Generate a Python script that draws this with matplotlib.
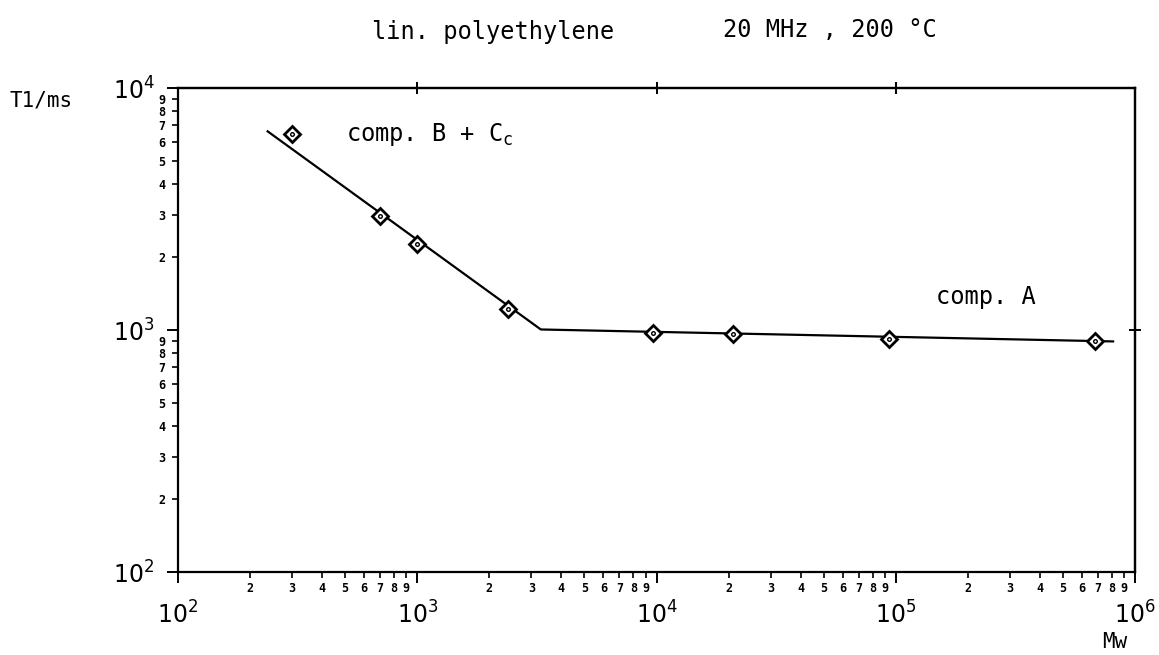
import numpy as np
import matplotlib
matplotlib.use("Agg")
import matplotlib.pyplot as plt
from matplotlib.ticker import LogLocator, FuncFormatter, FixedLocator, NullFormatter

# ---- data ----
mw_points = [300, 700, 1000, 2400, 9700, 20800, 93500, 681000]
t1_points = [6430, 2960, 2260, 1220, 972, 963, 919, 901]
fit_mw = [237, 3285, 810000]
fit_t1 = [6620, 1005, 897]
x_decades = [1e2, 1e3, 1e4, 1e5, 1e6]
y_decades = [1e2, 1e3, 1e4]
top_ticks = [1e3, 1e4, 1e5]
right_ticks = [1e3]
title_left = "lin. polyethylene"
title_right = "20 MHz , 200 °C"
label_bc = r"comp. B + C$_{\mathdefault{c}}$"
label_a = "comp. A"
ylabel = "T1/ms"
xlabel = "Mw"

W, H = 1159, 655
plt.rcParams["mathtext.fontset"] = "dejavusans"
fig = plt.figure(figsize=(W / 100, H / 100), dpi=100)
fig.patch.set_facecolor("white")

def fx(px):
    return px / W

def fy(py):
    return 1 - py / H

ax = fig.add_axes([fx(178), fy(572), (1135 - 178) / W, (572 - 88) / H])
ax.set_xscale("log")
ax.set_yscale("log")
ax.set_xlim(x_decades[0], x_decades[-1])
ax.set_ylim(y_decades[0], y_decades[-1])

for s in ax.spines.values():
    s.set_linewidth(1.6)

ax.plot(fit_mw, fit_t1, color="black", lw=1.6, zorder=2)
ax.plot(mw_points, t1_points, linestyle="none", marker="D", ms=8,
        mfc="white", mec="black", mew=2.0, zorder=3)
ax.plot(mw_points, t1_points, linestyle="none", marker="o", ms=2.6,
        mfc="white", mec="black", mew=1.0, zorder=4)

def major_fmt(v, pos):
    e = int(round(np.log10(v)))
    return r"$\mathdefault{10^{%d}}$" % e

def minor_fmt(v, pos):
    e = np.floor(np.log10(v) + 1e-9)
    d = int(round(v / 10 ** e))
    return str(d)

for axis in (ax.xaxis, ax.yaxis):
    axis.set_major_locator(FixedLocator(x_decades if axis is ax.xaxis else y_decades))
    axis.set_major_formatter(FuncFormatter(major_fmt))
    axis.set_minor_locator(LogLocator(base=10, subs=np.arange(2, 10), numticks=100))
    axis.set_minor_formatter(FuncFormatter(minor_fmt))

ax.tick_params(axis="both", which="major", direction="out", length=8, width=1.4,
               labelsize=17, colors="black")
ax.tick_params(axis="x", which="major", pad=13)
ax.tick_params(axis="y", which="major", pad=9)
ax.tick_params(axis="both", which="minor", direction="out", length=4, width=1.2,
               labelsize=8.5, colors="black")
ax.tick_params(axis="x", which="minor", pad=3)
ax.tick_params(axis="y", which="minor", pad=5)
for lab in ax.xaxis.get_minorticklabels() + ax.yaxis.get_minorticklabels():
    lab.set_fontweight("bold")
    lab.set_family("DejaVu Sans Mono")

# top and right cross ticks
secx = ax.secondary_xaxis("top")
secx.set_xscale("log")
secx.xaxis.set_major_locator(FixedLocator(top_ticks))
secx.xaxis.set_minor_locator(FixedLocator([]))
secx.xaxis.set_major_formatter(NullFormatter())
secx.tick_params(direction="inout", length=9, width=1.4)
secx.spines["top"].set_linewidth(1.6)
secy = ax.secondary_yaxis("right")
secy.set_yscale("log")
secy.yaxis.set_major_locator(FixedLocator(right_ticks))
secy.yaxis.set_minor_locator(FixedLocator([]))
secy.yaxis.set_major_formatter(NullFormatter())
secy.tick_params(direction="inout", length=9, width=1.4)
secy.spines["right"].set_linewidth(1.6)

mono = "DejaVu Sans Mono"
fig.text(fx(493), fy(32), title_left, family=mono, fontsize=17, ha="center", va="center")
fig.text(fx(830), fy(30), title_right, family=mono, fontsize=17, ha="center", va="center")
fig.text(fx(346), fy(134), label_bc, family=mono, fontsize=17, ha="left", va="center")
fig.text(fx(936), fy(297), label_a, family=mono, fontsize=17, ha="left", va="center")
fig.text(fx(10), fy(100), ylabel, family=mono, fontsize=15, ha="left", va="center")
fig.text(fx(1115), fy(642), xlabel, family=mono, fontsize=15, ha="center", va="center")

fig.savefig("out.png", dpi=100, facecolor="white")
